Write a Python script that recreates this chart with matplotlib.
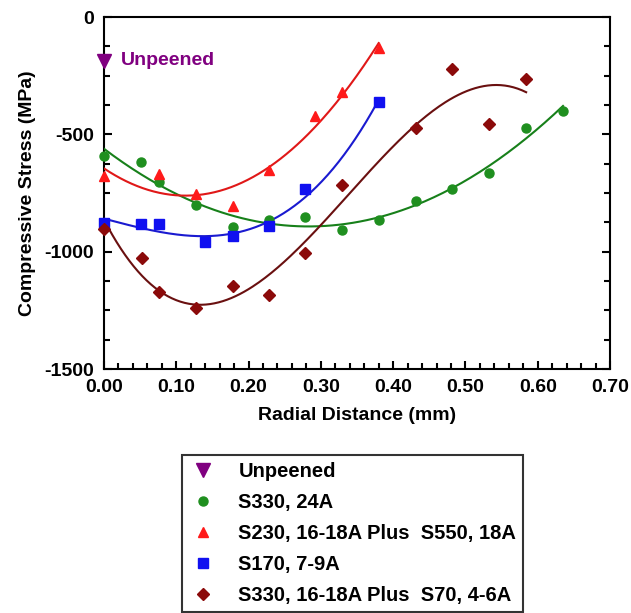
import numpy as np
import matplotlib.pyplot as plt
from matplotlib.ticker import MultipleLocator

plt.rcParams['font.family'] = ['Liberation Sans', 'DejaVu Sans']
plt.rcParams['font.weight'] = 'bold'
plt.rcParams['axes.unicode_minus'] = False

# data (radial distance mm, stress MPa)
unpeened_x = [0.0]
unpeened_y = [-187]

s330_x = [0.0, 0.051, 0.076, 0.127, 0.178, 0.228, 0.278, 0.329, 0.380, 0.432, 0.481, 0.533, 0.584, 0.635]
s330_y = [-591, -620, -705, -803, -897, -863, -854, -909, -867, -782, -731, -663, -472, -399]

s230_x = [0.0, 0.076, 0.127, 0.178, 0.228, 0.292, 0.329, 0.380]
s230_y = [-676, -667, -756, -807, -654, -421, -319, -132]

s170_x = [0.0, 0.051, 0.076, 0.140, 0.178, 0.228, 0.278, 0.380]
s170_y = [-876, -884, -884, -960, -935, -892, -731, -361]

s70_x = [0.0, 0.053, 0.076, 0.127, 0.178, 0.228, 0.278, 0.329, 0.432, 0.481, 0.533, 0.584]
s70_y = [-905, -1028, -1173, -1241, -1147, -1186, -1007, -718, -472, -221, -455, -264]

labels = ['Unpeened', 'S330, 24A', 'S230, 16-18A Plus  S550, 18A',
          'S170, 7-9A', 'S330, 16-18A Plus  S70, 4-6A']

fig = plt.figure(figsize=(6.31, 6.13), dpi=100)
ax = fig.add_axes([104/631, 1-369/613, 506/631, 352/613])

handles = []
h, = ax.plot(unpeened_x, unpeened_y, 'v', color='#800080', ms=10, clip_on=False, zorder=5)
handles.append(h)

series = [
    (s330_x, s330_y, 'o', '#1f8f1f', '#17801a', 3, 6.5),
    (s230_x, s230_y, '^', '#ff1a1a', '#e01818', 2, 7),
    (s170_x, s170_y, 's', '#1010f0', '#1a1ad0', 3, 6.5),
    (s70_x, s70_y, 'D', '#8b0a0a', '#6a1010', 3, 6),
]
for xs, ys, m, mc, lc, deg, ms in series:
    h, = ax.plot(xs, ys, m, color=mc, ms=ms, clip_on=False, zorder=4)
    handles.append(h)
    c = np.polyfit(xs, ys, deg)
    xx = np.linspace(min(xs), max(xs), 200)
    ax.plot(xx, np.polyval(c, xx), '-', color=lc, lw=1.5, zorder=3)

ax.text(0.024, -187, 'Unpeened', color='#800080', fontsize=14, fontweight='bold', va='center')

ax.set_xlim(0, 0.70)
ax.set_ylim(-1500, 0)
ax.xaxis.set_major_locator(MultipleLocator(0.1))
ax.xaxis.set_minor_locator(MultipleLocator(0.02))
ax.yaxis.set_major_locator(MultipleLocator(500))
ax.yaxis.set_minor_locator(MultipleLocator(125))
ax.xaxis.set_major_formatter(plt.FuncFormatter(lambda v, p: '%.2f' % v))
ax.tick_params(which='both', direction='in', left=True, right=True, top=False, bottom=True,
               labelsize=14, width=1.5)
ax.tick_params(which='major', length=6, pad=7)
ax.tick_params(which='minor', length=4)
for s in ax.spines.values():
    s.set_linewidth(1.5)

ax.set_xlabel('Radial Distance (mm)', fontsize=14, fontweight='bold', labelpad=8)
ax.set_ylabel('Compressive Stress (MPa)', fontsize=14, fontweight='bold', labelpad=6)

leg = fig.legend(handles, labels, loc='upper left', bbox_to_anchor=(182/631, 1-455/613),
                 borderaxespad=0, fontsize=14.5, labelspacing=0.6, handletextpad=1.05,
                 handlelength=1.4, borderpad=0.35, fancybox=False, frameon=True)
leg.get_frame().set_edgecolor('black')
leg.get_frame().set_linewidth(1.5)
for t in leg.get_texts():
    t.set_fontweight('bold')

fig.savefig('out.png', dpi=100)
